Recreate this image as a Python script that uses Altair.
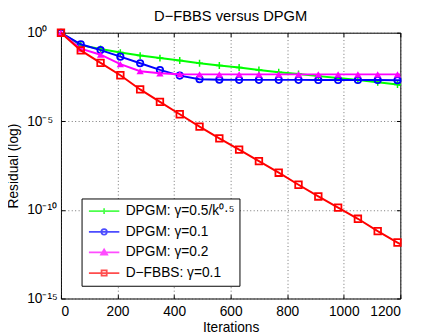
import altair as alt
import pandas as pd

# ---------------- data ----------------
iterations = [0, 70, 140, 210, 280, 350, 420, 490, 560, 630, 700, 770, 840, 910, 980, 1050, 1120, 1190]
final_iteration = 1200

series_names = ["DPGM: γ=0.5/k⁰·⁵", "DPGM: γ=0.1", "DPGM: γ=0.2", "D−FBBS: γ=0.1"]
series_colors = ["#00ff00", "#0000ff", "#ff00ff", "#ff0000"]

# log10(residual) at the marker iterations
log_dpgm_diminishing = [0, -0.70, -0.92, -1.12, -1.29, -1.43, -1.57, -1.72, -1.85, -1.96,
                        -2.10, -2.23, -2.33, -2.45, -2.55, -2.67, -2.80, -2.92]
log_dpgm_01 = [0, -0.65, -0.98, -1.35, -1.72, -2.10, -2.42, -2.62, -2.65, -2.66,
               -2.66, -2.66, -2.66, -2.67, -2.67, -2.67, -2.67, -2.68]
log_dpgm_02 = [0, -0.90, -1.24, -1.77, -2.17, -2.29, -2.34, -2.35, -2.35, -2.35,
               -2.35, -2.35, -2.35, -2.35, -2.35, -2.35, -2.35, -2.35]
log_dfbbs = [0, -1.00, -1.70, -2.40, -3.20, -3.90, -4.60, -5.30, -5.96, -6.60,
             -7.25, -7.90, -8.58, -9.24, -9.87, -10.50, -11.20, -11.84]
log_final = [-2.95, -2.68, -2.35, -11.93]

x_tick_values = [0, 200, 400, 600, 800, 1000, 1200]
y_tick_values = [1, 1e-5, 1e-10, 1e-15]
y_tick_labels = ["10⁰", "10⁻⁵", "10⁻¹⁰", "10⁻¹⁵"]

# ---------------- table ----------------
all_logs = [log_dpgm_diminishing, log_dpgm_01, log_dpgm_02, log_dfbbs]
rows = []
for name, logs, fin in zip(series_names, all_logs, log_final):
    for it, lv in zip(iterations, logs):
        rows.append({"series": name, "iteration": it, "residual": 10.0 ** lv, "marker": True})
    rows.append({"series": name, "iteration": final_iteration, "residual": 10.0 ** fin, "marker": False})
df = pd.DataFrame(rows)

FONT = "Liberation Sans, Arial, Helvetica, sans-serif"

label_expr = f"'{y_tick_labels[-1]}'"
for i in range(len(y_tick_values) - 2, -1, -1):
    thr = (y_tick_values[i] * y_tick_values[i + 1]) ** 0.5
    label_expr = f"datum.value > {thr} ? '{y_tick_labels[i]}' : ({label_expr})"

x_scale = alt.Scale(domain=[0, 1200], nice=False, zero=False)
y_scale = alt.Scale(type="log", domain=[1e-15, 1], nice=False)

TICK = 4  # inward tick length (axes are pulled inside the frame by the same amount)

x_main = alt.X(
    "iteration:Q", scale=x_scale,
    axis=alt.Axis(values=x_tick_values, format="d", title="Iterations", grid=True,
                  orient="bottom", offset=-TICK, ticks=True, tickSize=TICK, domain=False,
                  labelPadding=6, titleX=173, titleY=34 + TICK, titleBaseline="alphabetic",
                  titleAnchor="middle"),
)
y_main = alt.Y(
    "residual:Q", scale=y_scale,
    axis=alt.Axis(values=y_tick_values, labelExpr=label_expr, title="Residual (log)",
                  grid=True, orient="left", offset=-TICK, ticks=True, tickSize=TICK,
                  domain=False, labelPadding=35, labelAlign="left",
                  titleX=-41 - TICK, titleY=135.5,
                  titleBaseline="bottom", titleAngle=270, titleAnchor="middle"),
)
x_plain = alt.X("iteration:Q", scale=x_scale, axis=None)
y_plain = alt.Y("residual:Q", scale=y_scale, axis=None)
x_top = alt.X(
    "iteration:Q", scale=x_scale,
    axis=alt.Axis(values=x_tick_values, orient="top", offset=-TICK, ticks=True, tickSize=TICK,
                  domain=False, labels=False, grid=False, title=None),
)
y_right = alt.Y(
    "residual:Q", scale=y_scale,
    axis=alt.Axis(values=y_tick_values, orient="right", offset=-TICK, ticks=True, tickSize=TICK,
                  domain=False, labels=False, grid=False, title=None),
)

marker_styles = [
    dict(shape="M-1,0L1,0M0,-1L0,1", filled=False, size=49, strokeWidth=1.5),
    dict(shape="circle", filled=False, size=42, strokeWidth=1.8),
    dict(shape="triangle-up", filled=True, size=55, strokeWidth=1.5),
    dict(shape="square", filled=False, size=45, strokeWidth=1.8),
]

layers = []
for k, (name, col, st) in enumerate(zip(series_names, series_colors, marker_styles)):
    sub = df[df["series"] == name]
    xe, ye = (x_main, y_main) if k == 0 else (x_plain, y_plain)
    layers.append(
        alt.Chart(sub).mark_line(color=col, strokeWidth=2).encode(x=xe, y=ye, order="iteration:Q")
    )
    layers.append(
        alt.Chart(sub[sub["marker"]]).mark_point(color=col, opacity=1, **st).encode(x=x_plain, y=y_plain)
    )

legend_paths = [
    "M-1,0L1,0M0,-0.19L0,0.19",
    "M-1,0L1,0M-0.18,0A0.18,0.18 0 1,1 0.18,0A0.18,0.18 0 1,1 -0.18,0",
    "M-1,0L1,0M0,-0.19L0.2,0.15L-0.2,0.15ZM0,-0.08L0.09,0.09L-0.09,0.09Z",
    "M-1,0L1,0M-0.17,-0.17L0.17,-0.17L0.17,0.17L-0.17,0.17Z",
]

legend_props = dict(
    title=None, orient="none", legendX=21, legendY=169,
    fillColor="white", strokeColor="black", padding=5,
    symbolSize=961, symbolStrokeWidth=1.8, symbolOffset=1.5,
    labelOffset=5.5, labelFontSize=14, labelFont=FONT, labelColor="black",
    clipHeight=16, rowPadding=5, labelLimit=300,
)

legend_layer = alt.Chart(df).transform_filter("datum.iteration < 0").mark_point(
    filled=False, strokeWidth=1.8
).encode(
    x=x_top,
    y=y_right,
    color=alt.Color("series:N", scale=alt.Scale(domain=series_names, range=series_colors),
                    legend=alt.Legend(**legend_props)),
    shape=alt.Shape("series:N", scale=alt.Scale(domain=series_names, range=legend_paths),
                    legend=alt.Legend(**legend_props)),
)
layers.append(legend_layer)

chart = alt.layer(*layers).resolve_axis(
    x="independent", y="independent"
).properties(
    width=346,
    height=271,
    autosize=alt.AutoSizeParams(type="none"),
    padding={"left": 54, "top": 22, "right": 17, "bottom": 35},
    title=alt.Title("D−FBBS versus DPGM", fontSize=15, fontWeight="normal", font=FONT,
                    color="black", anchor="middle", frame="group", offset=2),
).configure_view(
    stroke="black", strokeWidth=1
).configure_axis(
    tickColor="black", tickWidth=1,
    labelFont=FONT, labelFontSize=14, labelColor="black",
    titleFont=FONT, titleFontSize=14, titleFontWeight="normal", titleColor="black",
    gridColor="#333333", gridDash=[1, 2.5], gridOpacity=0.7, gridWidth=1,
)

chart.save("out.html", embed_options={"renderer": "svg", "actions": False})
